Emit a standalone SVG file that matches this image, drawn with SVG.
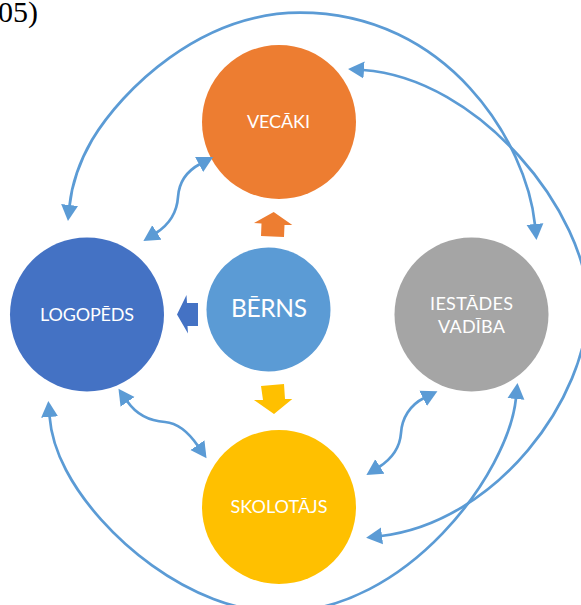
<svg xmlns="http://www.w3.org/2000/svg" width="581" height="605" viewBox="0 0 581 605">
<style>
.c{fill:none;stroke:#5b9bd5;stroke-width:2.7;marker-start:url(#a);marker-end:url(#a)}
.t{font-family:Lato,"Open Sans",sans-serif;font-size:18px;fill:#fff;text-anchor:middle}
</style>
<defs>
<marker id="a" markerUnits="userSpaceOnUse" markerWidth="18" markerHeight="18" refX="1" refY="8.500" orient="auto-start-reverse" viewBox="0 0 18 17"><path d="M0 0L16 8.500L0 17Z" fill="#5b9bd5"/></marker>
</defs>
<rect width="581" height="605" fill="#fff"/>
<text x="-2" y="22" font-family="'Liberation Serif',serif" font-size="30" fill="#000">05)</text>
<g id="vecaki"><circle cx="279" cy="122" r="77" fill="#ed7d31"/><text class="t" x="278.500" y="128" textLength="63">VECĀKI</text></g>
<g id="logopeds"><circle cx="87" cy="314.500" r="77" fill="#4472c4"/><text class="t" x="87" y="321" textLength="94">LOGOPĒDS</text></g>
<g id="iestades"><circle cx="471.500" cy="314.500" r="77" fill="#a5a5a5"/><text class="t" x="471.500" y="310" textLength="83">IESTĀDES</text><text class="t" x="471.500" y="333" textLength="67">VADĪBA</text></g>
<g id="skolotajs"><circle cx="279" cy="507" r="77" fill="#ffc000"/><text class="t" x="279" y="513" textLength="97">SKOLOTĀJS</text></g>
<g id="berns"><circle cx="268.500" cy="309.500" r="62" fill="#5b9bd5"/><text x="269" y="317" font-family="Lato,'Open Sans',sans-serif" font-size="24.500" fill="#fff" text-anchor="middle" textLength="76">BĒRNS</text></g>
<g id="block-arrows">
<polygon fill="#ed7d31" points="273.700,212 292.300,225 284.500,225 284,237 261,236 261.500,223.500 254,223"/>
<polygon fill="#ffc000" points="261,386 284,384 285,399 292.300,399 274,414 254,400 263,400"/>
<polygon fill="#4472c4" points="177,314.500 186.500,295 187,303 198,303 198,326 187.500,326 188,333.500"/>
</g>
<g id="connectors">
<path class="c" d="M69.500 206C72 182 81 159 92 140C122 90 200 12.700 300 12.700C448 12.700 526.800 143 535 225"/>
<path class="c" d="M363 70C479 78 588 213 588 305C588 398 497 522 381 536"/>
<path class="c" d="M49.500 416C51 435 57 453 66 470C100 535 190 612 280 612C407 612 508.500 473 516 398"/>
<path class="c" d="M156 233C170 224 177 212 178 197C179 182 187 171 200 164"/>
<path class="c" d="M127 401C136 414 150 421 165 422C178 423 189 433 198 446"/>
<path class="c" d="M379 467C393 458 400 447 401 433C402 418 410 405 424 398"/>
</g>
</svg>
